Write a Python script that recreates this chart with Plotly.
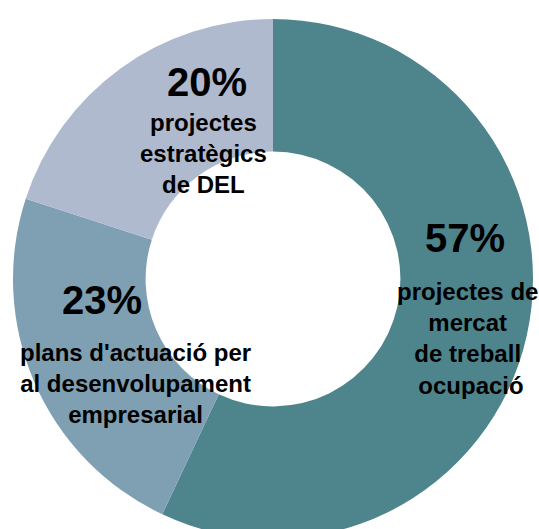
import plotly.graph_objects as go

labels = ["projectes de mercat de treball ocupació",
          "plans d'actuació per al desenvolupament empresarial",
          "projectes estratègics de DEL"]
values = [57, 23, 20]
pct_text = ["57%", "23%", "20%"]
label_text = ["projectes de<br>mercat<br>de treball<br> ocupació",
              "plans d'actuació per<br>al desenvolupament<br>empresarial",
              "projectes<br>estratègics<br>de DEL"]
colors = ["#4E858D", "#7EA0B2", "#B0BACF"]

W, H = 539, 540
L, R, T, B = 13, 6, 19, 1
PW, PH = W - L - R, H - T - B

def px(x):
    return (x - L) / PW

def py(y):
    return 1 - (y - T) / PH

fig = go.Figure(go.Pie(
    labels=labels, values=values, hole=0.49, sort=False,
    direction="clockwise", rotation=0,
    marker=dict(colors=colors, line=dict(width=0)),
    textinfo="none", hoverinfo="label+percent", showlegend=False,
))

FONT = "Liberation Sans, Arial, sans-serif"
pct_pos = [(465, 238), (102, 300), (207, 82)]
lab_pos = [(467, 338), (135, 383), (203, 154)]
anns = []
for i in range(3):
    anns.append(dict(x=px(pct_pos[i][0]), y=py(pct_pos[i][1]), xref="paper", yref="paper",
                     text="<b>%s</b>" % pct_text[i], showarrow=False,
                     xanchor="center", yanchor="middle",
                     font=dict(family=FONT, size=40, color="#000000")))
    anns.append(dict(x=px(lab_pos[i][0]), y=py(lab_pos[i][1]), xref="paper", yref="paper",
                     text="<b>%s</b>" % label_text[i], showarrow=False,
                     xanchor="center", yanchor="middle", align="center",
                     font=dict(family=FONT, size=24, color="#000000")))

fig.update_layout(width=W, height=H, margin=dict(l=L, r=R, t=T, b=B),
                  paper_bgcolor="white", plot_bgcolor="white", annotations=anns)

fig.write_html("out.html", config={"displayModeBar": False}, post_script=(
    "document.body.style.margin='0';"
    "document.body.style.overflow='hidden';"
    "document.documentElement.style.overflow='hidden';"))
